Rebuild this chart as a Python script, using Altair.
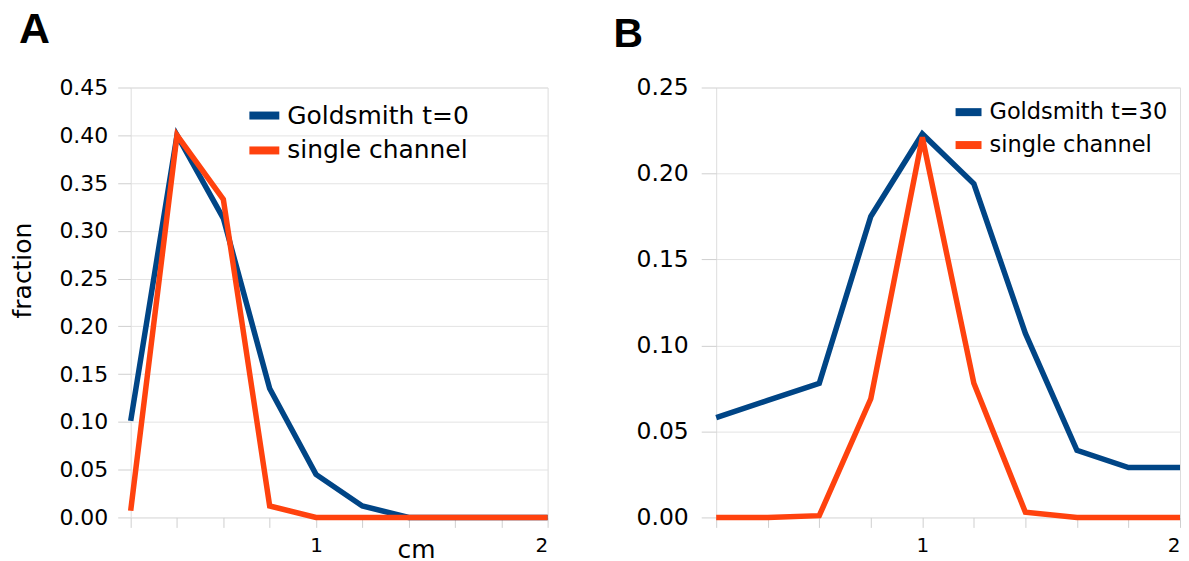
import altair as alt
import pandas as pd

# x positions (cm) – 10 categories, labelled only at 1 and 2
cm = [0.2, 0.4, 0.6, 0.8, 1.0, 1.2, 1.4, 1.6, 1.8, 2.0]

panel_letters = ["A", "B"]

# Panel A
a_names = ["Goldsmith t=0", "single channel"]
a_gold = [0.101, 0.400, 0.313, 0.135, 0.045, 0.012, 0.0, 0.0, 0.0, 0.0]
a_single = [0.007, 0.400, 0.333, 0.012, 0.0, 0.0, 0.0, 0.0, 0.0, 0.0]

# Panel B
b_names = ["Goldsmith t=30", "single channel"]
b_gold = [0.058, 0.068, 0.078, 0.175, 0.223, 0.194, 0.107, 0.039, 0.029, 0.029]
b_single = [0.0, 0.0, 0.001, 0.069, 0.221, 0.078, 0.003, 0.0, 0.0, 0.0]

colors = ["#004586", "#ff420e"]
FONT = "DejaVu Sans"
GRID = "#e3e3e3"

label_expr = "abs(datum.value-1)<0.01 ? '1' : (abs(datum.value-2)<0.01 ? '2' : '')"


def make_df(names, s1, s2):
    rows = []
    for x, v in zip(cm, s1):
        rows.append({"cm": x, "fraction": v, "series": names[0]})
    for x, v in zip(cm, s2):
        rows.append({"cm": x, "fraction": v, "series": names[1]})
    return pd.DataFrame(rows)


def panel(names, s1, s2, ymax, yticks, letter, letter_x, letter_y, letter_size,
          legend_x, legend_y, sym_size, leg_font, ylab_font, ytick, ypad,
          show_ytitle, show_xtitle, width, height):
    df = make_df(names, s1, s2)
    x_axis = alt.Axis(
        values=cm, labelExpr=label_expr, grid=False, domain=False,
        tickColor="#cfcfcf", tickSize=10, labelPadding=8, labelFlush=True,
        labelFont=FONT, labelFontSize=20, labelColor="#000000",
        title="cm" if show_xtitle else None,
        **({"titleX": 286, "titleY": 40, "titleAlign": "center",
            "titleBaseline": "alphabetic", "titleFont": FONT,
            "titleFontSize": 25, "titleFontWeight": "normal",
            "titleColor": "#000000"} if show_xtitle else {}),
    )
    y_axis = alt.Axis(
        values=yticks, format=".2f", grid=True, gridColor=GRID, domain=False,
        tickColor="#cfcfcf", tickSize=ytick, labelPadding=ypad,
        labelFont=FONT, labelFontSize=ylab_font, labelColor="#000000",
        title="fraction" if show_ytitle else None,
        **({"titleX": -108, "titleY": 183, "titleAngle": 270,
            "titleAlign": "center", "titleBaseline": "middle",
            "titleFont": FONT, "titleFontSize": 25,
            "titleFontWeight": "normal", "titleColor": "#000000"} if show_ytitle else {}),
    )
    color = alt.Color(
        "series:N",
        scale=alt.Scale(domain=names, range=colors),
        legend=alt.Legend(
            orient="none", legendX=legend_x, legendY=legend_y, title=None,
            symbolType="stroke", symbolStrokeWidth=8, symbolSize=sym_size,
            labelFont=FONT, labelFontSize=leg_font, labelColor="#000000",
            labelOffset=4, rowPadding=0, padding=0, labelLimit=0,
        ),
    )
    base = alt.Chart(df).mark_line(
        strokeWidth=5.5, strokeCap="butt", strokeJoin="miter", strokeMiterLimit=4
    ).encode(
        x=alt.X("cm:Q", scale=alt.Scale(domain=[0.2, 2.0], nice=False, zero=False), axis=x_axis),
        y=alt.Y("fraction:Q", scale=alt.Scale(domain=[0, ymax], nice=False), axis=y_axis),
        color=color,
    )
    l1 = base.transform_filter(alt.datum.series == names[0])
    l2 = base.transform_filter(alt.datum.series == names[1])
    letter_layer = alt.Chart(pd.DataFrame({"letter": [letter]})).mark_text(
        align="left", baseline="alphabetic", font="Liberation Sans",
        fontSize=letter_size, fontWeight="bold", color="#000000",
    ).encode(text="letter:N", x=alt.value(letter_x), y=alt.value(letter_y))
    return alt.layer(l1, l2, letter_layer).properties(width=width, height=height)


yt_a = [0.0, 0.05, 0.10, 0.15, 0.20, 0.25, 0.30, 0.35, 0.40, 0.45]
yt_b = [0.0, 0.05, 0.10, 0.15, 0.20, 0.25]

pa = panel(a_names, a_gold, a_single, 0.45, yt_a, panel_letters[0], -112, -45, 43,
           115, 9.1, 900, 25, 22, 13, 10, True, True, 418, 431)
pb = panel(b_names, b_gold, b_single, 0.25, yt_b, panel_letters[1], -103, -40.5, 41,
           236, 7.7, 676, 22.5, 23.5, 15, 13, False, False, 465, 431)

chart = alt.hconcat(pa, pb, spacing=53).resolve_scale(color="independent").properties(
    padding={"left": 2, "top": -1, "right": -11, "bottom": 0}
).configure_view(stroke="#d9d9d9").configure(background="#ffffff")

chart.save("out.html", embed_options={"renderer": "svg", "actions": False})
